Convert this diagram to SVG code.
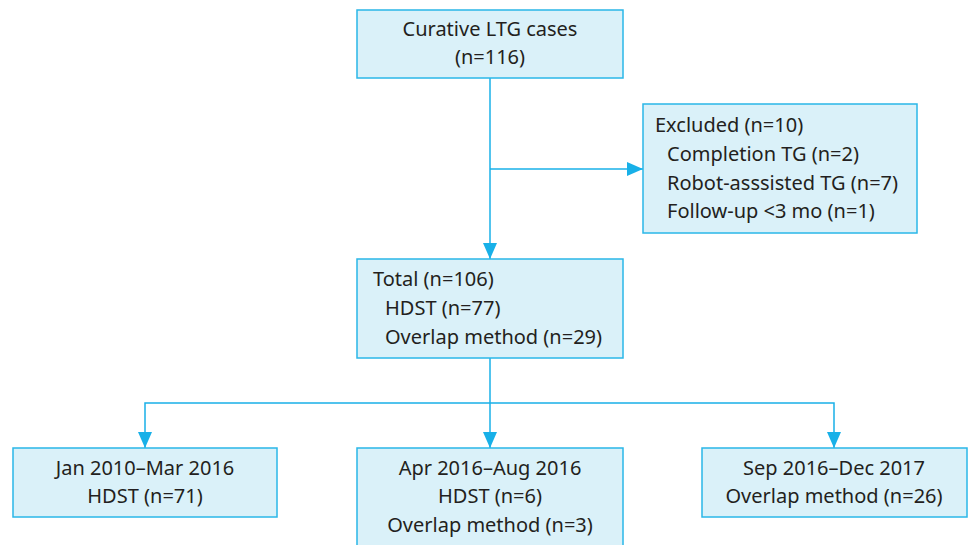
<svg xmlns="http://www.w3.org/2000/svg" width="970" height="545" viewBox="0 0 970 545">
<defs>
<style>
.box{fill:#daf1f9;stroke:#2ab7e8;stroke-width:1.5}
.t{font-family:"Noto Sans","Liberation Sans",sans-serif;font-size:20px;fill:#231f20}
.c{text-anchor:middle}
.ln{fill:none;stroke:#18b0e8;stroke-width:1.5}
</style>
<marker id="ah" markerWidth="16" markerHeight="14" refX="16" refY="7" orient="auto" markerUnits="userSpaceOnUse">
<path d="M0,0 L16,7 L0,14 Z" fill="#18b0e8"/>
</marker>
</defs>
<rect width="970" height="545" fill="#ffffff"/>
<g id="connectors">
<path class="ln" d="M490,78 V259" marker-end="url(#ah)"/>
<path class="ln" d="M490,169 H643" marker-end="url(#ah)"/>
<path class="ln" d="M490,358 V448" marker-end="url(#ah)"/>
<path class="ln" d="M490,403 H145 V448" marker-end="url(#ah)"/>
<path class="ln" d="M490,403 H834 V448" marker-end="url(#ah)"/>
</g>
<g id="curative">
<rect class="box" x="357" y="10" width="266" height="68"/>
<text class="t c" x="490" y="36">Curative LTG cases</text>
<text class="t c" x="490" y="64">(n=116)</text>
</g>
<g id="excluded">
<rect class="box" x="643" y="104" width="274" height="129"/>
<text class="t" x="655" y="132">Excluded (n=10)</text>
<text class="t" x="667" y="161">Completion TG (n=2)</text>
<text class="t" x="667" y="190">Robot-asssisted TG (n=7)</text>
<text class="t" x="667" y="218">Follow-up &lt;3 mo (n=1)</text>
</g>
<g id="total">
<rect class="box" x="357" y="259" width="266" height="99"/>
<text class="t" x="373" y="286">Total (n=106)</text>
<text class="t" x="385" y="315">HDST (n=77)</text>
<text class="t" x="385" y="344">Overlap method (n=29)</text>
</g>
<g id="period1">
<rect class="box" x="13" y="448" width="264" height="69"/>
<text class="t c" x="145" y="475">Jan 2010–Mar 2016</text>
<text class="t c" x="145" y="503">HDST (n=71)</text>
</g>
<g id="period2">
<rect class="box" x="357" y="448" width="266" height="110"/>
<text class="t c" x="490" y="475">Apr 2016–Aug 2016</text>
<text class="t c" x="490" y="503">HDST (n=6)</text>
<text class="t c" x="490" y="532">Overlap method (n=3)</text>
</g>
<g id="period3">
<rect class="box" x="702" y="448" width="265" height="69"/>
<text class="t c" x="834" y="475">Sep 2016–Dec 2017</text>
<text class="t c" x="834" y="503">Overlap method (n=26)</text>
</g>
</svg>
